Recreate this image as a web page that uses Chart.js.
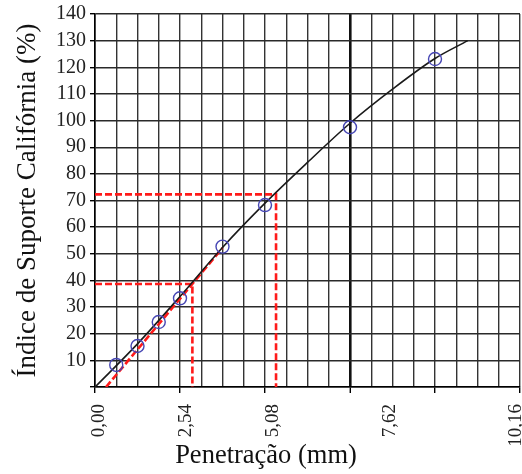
<!DOCTYPE html>
<html lang="pt">
<head>
<meta charset="utf-8">
<title>Índice de Suporte Califórnia</title>
<script src="https://cdn.jsdelivr.net/npm/chart.js@4/dist/chart.umd.min.js"></script>
<style>
  html, body { margin: 0; padding: 0; background: #ffffff; }
  #grafico { display: block; }
</style>
</head>
<body>
<canvas id="grafico" width="522" height="474"></canvas>
<script>
// Ensaio CBR: penetração (mm) x índice de suporte (%)
const penetracao = [0.635, 1.27, 1.905, 2.54, 3.81, 5.08, 7.62, 10.16];
const indiceSuporte = [8.3, 15.4, 24.4, 33.3, 52.7, 68.3, 97.5, 123.1];

// Curva ajustada aos pontos do ensaio
const curvaX = [0, 1.27, 2.54, 3.81, 5.08, 6.35, 7.62, 8.89, 10.16, 11.14];
const curvaY = [0, 16.2, 34.0, 52.4, 69.0, 84.3, 99.0, 111.8, 123.3, 130.0];

// Reta de correção da origem e leituras a 2,54 mm e 5,08 mm corrigidas
const correcaoX = [0.33, 3.81];
const correcaoY = [0, 52.2];
const leitura1X = [0, 2.91, 2.91];
const leitura1Y = [38.7, 38.7, 0];
const leitura2X = [0, 5.41, 5.41];
const leitura2Y = [72.3, 72.3, 0];

// Eixos
const eixoXMax = 12.7;
const passoGradeX = 0.635;
const eixoYMax = 140;
const passoY = 10;
const rotulosX = ['0,00', '2,54', '5,08', '7,62', '10,16'];
const posicoesRotulosX = [0.12, 2.72, 5.32, 8.82, 12.58];

const pares = (xs, ys) => xs.map((x, i) => ({ x: x, y: ys[i] }));

const serif = 'Liberation Serif';
const vermelho = '#ff1a1a';

const linhaTracejada = (xs, ys) => ({
  data: pares(xs, ys),
  showLine: true,
  borderColor: vermelho,
  borderWidth: 2.6,
  borderDash: [7, 3],
  pointRadius: 0,
  tension: 0,
  fill: false,
  order: 2
});

new Chart(document.getElementById('grafico'), {
  type: 'scatter',
  data: {
    datasets: [
      {
        data: pares(penetracao, indiceSuporte),
        pointStyle: 'circle',
        pointRadius: 6.5,
        pointBorderWidth: 1.4,
        pointBorderColor: '#4646b4',
        pointBackgroundColor: 'rgba(0,0,0,0)',
        showLine: false,
        order: 0
      },
      {
        data: pares(curvaX, curvaY),
        showLine: true,
        borderColor: '#1a1a1a',
        borderWidth: 1.6,
        cubicInterpolationMode: 'monotone',
        pointRadius: 0,
        fill: false,
        order: 1
      },
      linhaTracejada(correcaoX, correcaoY),
      linhaTracejada(leitura1X, leitura1Y),
      linhaTracejada(leitura2X, leitura2Y)
    ]
  },
  options: {
    responsive: false,
    animation: false,
    events: [],
    layout: { autoPadding: false, padding: { top: 14, left: 12, right: 2, bottom: 0 } },
    plugins: {
      legend: { display: false },
      tooltip: { enabled: false },
      title: {
        display: true,
        position: 'bottom',
        text: 'Penetração (mm)',
        color: '#111',
        font: { family: serif, size: 26.5, weight: 'normal', lineHeight: 0.7 },
        padding: { top: 0, bottom: 8.7 }
      }
    },
    scales: {
      // grade vertical a cada 0,635 mm, marcas a cada 2,54 mm
      x: {
        type: 'linear',
        position: 'bottom',
        min: 0,
        max: eixoXMax,
        afterBuildTicks: (escala) => {
          const marcas = [];
          for (let i = 0; i * passoGradeX <= eixoXMax + 1e-6; i++) {
            marcas.push({ value: +(i * passoGradeX).toFixed(3) });
          }
          escala.ticks = marcas;
        },
        afterFit: (escala) => {
          escala.height = 6;
          escala.paddingLeft = 0;
          escala.paddingRight = 0;
        },
        border: { display: true, color: '#000', width: 1.6 },
        grid: {
          color: (c) => (c.index === 12 ? '#111' : '#333'),
          lineWidth: (c) => (c.index === 12 ? 2.6 : 1.4),
          drawTicks: true,
          tickLength: 6,
          tickWidth: 1.4,
          tickColor: (c) => (c.index % 4 === 0 ? '#000' : 'rgba(0,0,0,0)')
        },
        ticks: { display: false }
      },
      // rótulos do eixo de penetração
      xRotulos: {
        type: 'linear',
        position: 'bottom',
        min: 0,
        max: eixoXMax,
        afterBuildTicks: (escala) => {
          escala.ticks = posicoesRotulosX.map((v) => ({ value: v }));
        },
        afterFit: (escala) => {
          escala.height = 53.7;
          escala.paddingLeft = 0;
          escala.paddingRight = 0;
        },
        border: { display: false },
        grid: { display: false, drawTicks: false },
        ticks: {
          autoSkip: false,
          minRotation: 90,
          maxRotation: 90,
          padding: 11,
          color: '#222',
          font: { family: serif, size: 19 },
          callback: (valor, indice) => rotulosX[indice]
        }
      },
      y: {
        type: 'linear',
        min: 0,
        max: eixoYMax,
        afterFit: (escala) => {
          escala.width = 83;
          escala.paddingTop = 0;
          escala.paddingBottom = 0;
        },
        border: { display: true, color: '#000', width: 1.6 },
        grid: {
          color: '#2a2a2a',
          lineWidth: 1.4,
          drawTicks: true,
          tickLength: 5,
          tickWidth: 1.4,
          tickColor: '#000'
        },
        ticks: {
          stepSize: passoY,
          autoSkip: false,
          padding: 4,
          color: '#222',
          font: { family: serif, size: 20 },
          callback: (valor) => (valor === 0 ? '' : String(valor))
        },
        title: {
          display: true,
          text: 'Índice de Suporte Califórnia (%)',
          color: '#111',
          font: { family: serif, size: 27, weight: 'normal', lineHeight: 1.2 },
          padding: { top: 0, bottom: 0 }
        }
      }
    }
  }
});
</script>
</body>
</html>
